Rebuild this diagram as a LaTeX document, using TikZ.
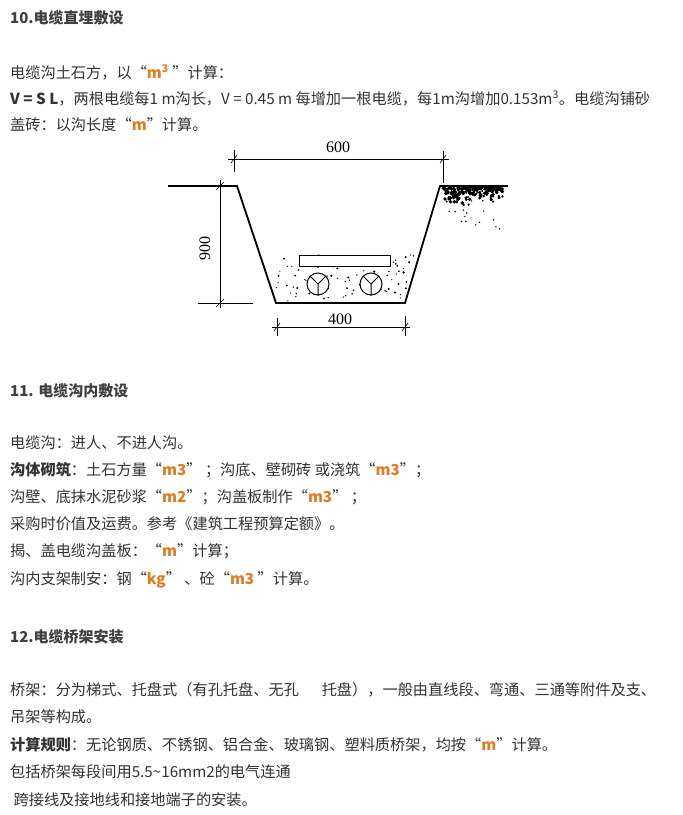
\documentclass[tikz,border=0pt]{standalone}
\usepackage{fontspec}
\setmainfont{Noto Sans CJK SC}
\newfontfamily\dimfont{Liberation Serif}
\begin{document}
\begin{tikzpicture}[x=1pt,y=-1pt,
  txt/.style={anchor=base west,inner sep=0pt,text=black!80,font=\fontsize{15.2}{16}\selectfont},
  ttl/.style={txt,text=black!75,font=\fontsize{15}{16}\selectfont\bfseries},
  dimtxt/.style={font=\dimfont\fontsize{16}{16}\selectfont,inner sep=0pt},
  wall/.style={line width=1.8pt,line join=miter},
  thin/.style={line width=0.6pt}]
\newcommand\hl[1]{\textcolor[HTML]{E07B20}{\textbf{#1}}}
\useasboundingbox[fill=white] (0,0) rectangle (683,815);
% texts
\node[ttl] (t10) at (10,23) {10.电缆直埋敷设};
\node[txt] (l1) at (10,78) {电缆沟土石方，以“\hl{m\textsuperscript{3}} ”计算：};
\node[txt] (l2) at (10,104) {\textbf{V = S L}，两根电缆每1 m沟长，V = 0.45 m 每增加一根电缆，每1m沟增加0.153m\textsuperscript{3}。电缆沟铺砂};
\node[txt] (l3) at (10,130) {盖砖：以沟长度“\hl{m}”计算。};
\node[ttl] (t11) at (10,396) {11. 电缆沟内敷设};
\node[txt] (a1) at (10,448) {电缆沟：进人、不进人沟。};
\node[txt] (a2) at (10,475) {\textbf{沟体砌筑}：土石方量“\hl{m3}” ；沟底、壁砌砖 或浇筑“\hl{m3}”；};
\node[txt] (a3) at (10,502) {沟壁、底抹水泥砂浆“\hl{m2}”；沟盖板制作“\hl{m3}” ；};
\node[txt] (a4) at (10,529) {采购时价值及运费。参考《建筑工程预算定额》。};
\node[txt] (a5) at (10,556) {揭、盖电缆沟盖板：“\hl{m}”计算；};
\node[txt] (a6) at (10,584) {沟内支架制安：钢“\hl{kg}” 、砼“\hl{m3} ”计算。};
\node[ttl] (t12) at (10,642) {12.电缆桥架安装};
\node[txt] (b1) at (10,695) {桥架：分为梯式、托盘式（有孔托盘、无孔\hspace{1.5em}托盘），一般由直线段、弯通、三通等附件及支、};
\node[txt] (b2) at (10,722) {吊架等构成。};
\node[txt] (b3) at (10,750) {\textbf{计算规则}：无论钢质、不锈钢、铝合金、玻璃钢、塑料质桥架，均按“\hl{m}”计算。};
\node[txt] (b4) at (10,777) {包括桥架每段间用5.5\textasciitilde16mm2的电气连通};
\node[txt] (b5) at (10,805) {\ 跨接线及接地线和接地端子的安装。};
% trench
\coordinate (gl) at (168,186);
\coordinate (tl) at (237,186);
\coordinate (bl) at (276,303);
\coordinate (br) at (405,303);
\coordinate (tr) at (440,186);
\coordinate (gr) at (508,186);
\draw[wall] (gl) -- (tl) -- (bl) -- (br) -- (tr) -- (gr);
% soil
\pgfmathsetseed{7}
\foreach \i in {1,...,260}{
  \pgfmathsetmacro\px{443+60*rnd}
  \pgfmathsetmacro\py{187+20*rnd*rnd}
  \fill (\px,\py) circle (0.7+1.3*rnd);
}
\foreach \i in {1,...,14}{
  \pgfmathsetmacro\px{445+55*rnd}
  \pgfmathsetmacro\py{205+25*rnd}
  \fill (\px,\py) circle (0.8);
}
% sand
\foreach \i in {1,...,90}{
  \pgfmathsetmacro\py{255+46*rnd}
  \pgfmathsetmacro\xl{237+(\py-186)*39/117+3}
  \pgfmathsetmacro\xr{440-(\py-186)*35/117-3}
  \pgfmathsetmacro\px{\xl+(\xr-\xl)*rnd}
  \fill (\px,\py) circle (0.6+0.6*rnd);
}
% cover plate & cables
\node[draw,fill=white,minimum width=91pt,minimum height=11pt,inner sep=0pt,line width=1pt] (plate) at (344.5,260.5) {};
\foreach \n/\cx in {c1/318,c2/371}{
  \node[draw,circle,fill=white,line width=1pt,minimum size=22pt,inner sep=0pt] (\n) at (\cx,284) {};
  \draw[line width=1pt] (\n.center) -- (\n.north west) (\n.center) -- (\n.north east) (\n.center) -- (\n.south);
}
% dims 600
\draw[thin] (228,159) -- (449,159);
\draw[thin] (234,150) -- (234,172) (443,151) -- (443,183);
\draw[thin] (231,163) -- (237,155) (440,163) -- (446,155);
\node[dimtxt] (n600) at (338,147) {600};
% dims 900
\draw[thin] (220,180) -- (220,308);
\draw[thin] (198,303) -- (253,303) (214,186) -- (237,186);
\draw[thin] (216,190) -- (224,182) (216,307) -- (224,299);
\node[dimtxt,rotate=90] (n900) at (205,248) {900};
% dims 400
\draw[thin] (272,327) -- (410,327);
\draw[thin] (277,318) -- (277,336) (405,316) -- (405,336);
\draw[thin] (274,331) -- (280,323) (402,331) -- (408,323);
\node[dimtxt] (n400) at (340,319) {400};
\end{tikzpicture}
\end{document}
